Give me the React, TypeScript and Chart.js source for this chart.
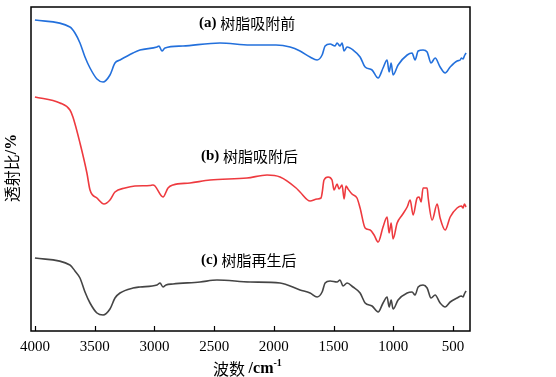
import React, { useEffect, useRef } from "react";
import { Chart, registerables } from "chart.js";

Chart.register(...registerables);

// x-axis tick labels (wavenumber, cm^-1)
const TICKS = [4000, 3500, 3000, 2500, 2000, 1500, 1000, 500];

// (a) 树脂吸附前 — wavenumber / transmittance (arbitrary offset units)
const WN_A = [4000, 3707, 3665, 3623, 3581, 3539, 3481, 3430, 3372, 3330, 3288, 3179, 3121, 2978, 2961, 2937, 2911, 2761, 2451, 2199, 1982, 1864, 1781, 1697, 1638, 1596, 1571, 1529, 1488, 1471, 1446, 1429, 1412, 1387, 1337, 1278, 1236, 1178, 1127, 1086, 1052, 1035, 1018, 1002, 960, 884, 843, 818, 792, 751, 717, 684, 650, 608, 566, 524, 466, 440, 430, 416, 405, 391];
const T_A = [311, 304, 298, 288, 274, 263, 252, 249, 256, 268, 271, 278, 281, 284, 285, 280, 283, 285, 288, 286, 286, 284, 280, 274, 271, 276, 285, 287, 285, 288, 285, 288, 280, 284, 281, 274, 264, 261, 253, 263, 271, 259, 268, 256, 266, 276, 278, 271, 280, 281, 279, 268, 273, 264, 258, 264, 270, 271, 273, 272, 275, 278];

// (b) 树脂吸附后
const WN_B = [4000, 3791, 3707, 3682, 3623, 3565, 3539, 3481, 3422, 3372, 3330, 3246, 3163, 3037, 3012, 2995, 2928, 2886, 2844, 2702, 2534, 2225, 2057, 1948, 1814, 1781, 1697, 1638, 1605, 1596, 1580, 1546, 1513, 1496, 1471, 1454, 1429, 1412, 1396, 1379, 1346, 1304, 1278, 1236, 1194, 1161, 1127, 1086, 1052, 1035, 1018, 1002, 968, 926, 884, 859, 834, 801, 784, 767, 751, 717, 708, 675, 633, 608, 566, 524, 466, 430, 416, 405, 391];
const T_B = [234, 228, 221, 214, 188, 158, 141, 133, 127, 131, 139, 143, 145, 145.5, 146, 145, 134, 143, 146, 148, 151, 153, 156, 154, 143, 139, 130, 132, 133, 138, 151, 154, 151, 141, 147, 142, 146, 132, 145, 142, 137, 133, 123, 103, 101, 96, 89, 104, 114, 98, 108, 92, 108, 116, 124, 131, 116, 133, 134, 129, 143, 143, 133, 111, 127, 113, 101, 114, 123, 125, 123, 127, 124];

// (c) 树脂再生后
const WN_C = [4000, 3707, 3665, 3623, 3581, 3539, 3481, 3430, 3372, 3330, 3288, 3179, 3121, 2978, 2953, 2928, 2903, 2844, 2618, 2476, 2199, 1948, 1781, 1697, 1638, 1596, 1571, 1529, 1471, 1446, 1421, 1387, 1337, 1278, 1236, 1178, 1127, 1086, 1052, 1035, 1018, 1002, 960, 884, 843, 818, 792, 751, 717, 684, 650, 608, 566, 524, 466, 430, 416, 405, 391];
const T_C = [73, 66, 60, 53, 39, 28, 18, 16, 22, 33, 38, 43, 44, 46, 48, 44, 46, 47, 49, 51, 49, 48, 41, 38, 34, 39, 48, 50, 49, 51, 45, 48, 44, 38, 28, 25, 19, 28, 34, 24, 31, 22, 31, 38, 39, 36, 44, 46, 43, 33, 36, 28, 24, 29, 33, 35, 34, 37, 40];

const SERIES_LABELS = ["(a) 树脂吸附前", "(b) 树脂吸附后", "(c) 树脂再生后"];
const SERIES_COLORS = ["#2370dc", "#ee3a3f", "#454545"];

const SERIF = '"Liberation Serif", "Times New Roman", serif';
const CJK = '"Noto Sans CJK SC", sans-serif';

function toPoints(xs: number[], ys: number[]) {
  return xs.map((x, i) => ({ x, y: ys[i] }));
}

function drawMixed(ctx: CanvasRenderingContext2D, parts: { text: string; font: string; dy?: number }[], x: number, y: number) {
  let cx = x;
  for (const p of parts) {
    ctx.font = p.font;
    ctx.fillText(p.text, cx, y + (p.dy || 0));
    cx += ctx.measureText(p.text).width;
  }
}

const annotPlugin = {
  id: "annot",
  afterDraw(chart: any) {
    const { ctx, chartArea: a, scales } = chart;
    ctx.save();
    ctx.strokeStyle = "#000";
    ctx.lineWidth = 1.5;
    ctx.strokeRect(a.left, a.top, a.right - a.left, a.bottom - a.top);
    ctx.lineWidth = 1.2;
    for (const v of TICKS) {
      const px = Math.round(scales.x.getPixelForValue(v)) + 0.5;
      ctx.beginPath();
      ctx.moveTo(px, a.bottom);
      ctx.lineTo(px, a.bottom - 5);
      ctx.stroke();
    }
    ctx.fillStyle = "#000";
    ctx.textBaseline = "middle";
    ctx.textAlign = "left";
    const labelPos = [
      [199, 23],
      [201, 156],
      [201, 260],
    ];
    SERIES_LABELS.forEach((lbl, i) => {
      const idx = lbl.indexOf(")") + 1;
      drawMixed(ctx, [
        { text: lbl.slice(0, idx) + " ", font: `bold 15px ${SERIF}` },
        { text: lbl.slice(idx).trim(), font: `15px ${CJK}` },
      ], labelPos[i][0], labelPos[i][1]);
    });
    // x title
    drawMixed(ctx, [
      { text: "波数 ", font: `16px ${CJK}` },
      { text: "/cm", font: `bold 16px ${SERIF}` },
      { text: "-1", font: `bold 10px ${SERIF}`, dy: -6 },
    ], 213, 369);
    // y title
    ctx.translate(12, 168);
    ctx.rotate(-Math.PI / 2);
    const t1 = "透射比";
    ctx.font = `16px ${CJK}`;
    const w1 = ctx.measureText(t1).width;
    ctx.font = `bold 16px ${SERIF}`;
    const w2 = ctx.measureText("/%").width;
    drawMixed(ctx, [
      { text: t1, font: `16px ${CJK}` },
      { text: "/%", font: `bold 16px ${SERIF}` },
    ], -(w1 + w2) / 2, 0);
    ctx.restore();
  },
};

export default function App() {
  const ref = useRef<HTMLCanvasElement | null>(null);
  useEffect(() => {
    if (!ref.current) return;
    const chart = new Chart(ref.current, {
      type: "line",
      data: {
        datasets: [
          { label: SERIES_LABELS[0], data: toPoints(WN_A, T_A), borderColor: SERIES_COLORS[0] },
          { label: SERIES_LABELS[1], data: toPoints(WN_B, T_B), borderColor: SERIES_COLORS[1] },
          { label: SERIES_LABELS[2], data: toPoints(WN_C, T_C), borderColor: SERIES_COLORS[2] },
        ].map((d) => ({ ...d, borderWidth: 1.6, pointRadius: 0, fill: false, cubicInterpolationMode: "monotone" as const })),
      },
      options: {
        responsive: false,
        animation: false,
        devicePixelRatio: 1,
        layout: { padding: { left: 31, right: 86, top: 7, bottom: 0 } },
        plugins: { legend: { display: false }, tooltip: { enabled: false } },
        scales: {
          x: {
            type: "linear",
            reverse: true,
            min: 358,
            max: 4033,
            afterBuildTicks: (s: any) => {
              s.ticks = TICKS.map((v) => ({ value: v }));
            },
            afterFit: (s: any) => {
              s.height = 46;
            },
            grid: { display: false, drawTicks: false },
            border: { display: false },
            ticks: {
              padding: 7,
              color: "#000",
              maxRotation: 0,
              autoSkip: false,
              font: { family: SERIF, size: 15 },
              callback: (v: any) => String(v),
            },
          },
          y: {
            display: false,
            min: 0,
            max: 324,
          },
        },
      },
      plugins: [annotPlugin],
    });
    return () => chart.destroy();
  }, []);
  return (
    <div style={{ position: "fixed", left: 0, top: 0, width: 556, height: 377, background: "#fff" }}>
      <canvas ref={ref} width={556} height={377} style={{ display: "block" }} />
    </div>
  );
}
